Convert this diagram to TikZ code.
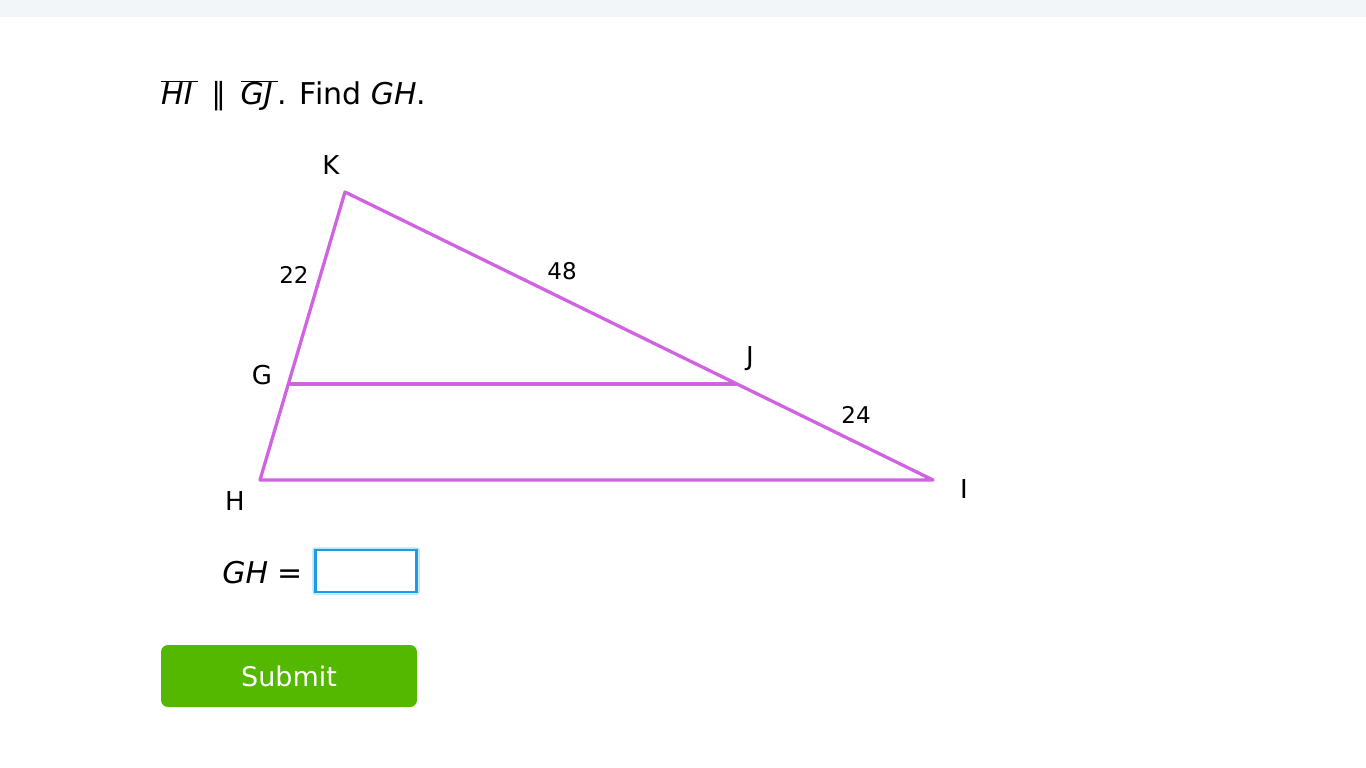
\documentclass[tikz,border=0pt]{standalone}
\usepackage{fontspec}
\setmainfont{DejaVu Sans}
\usepackage{tikz}
\usetikzlibrary{positioning}
\definecolor{SideOrchid}{HTML}{D064E0}
\definecolor{BarGrey}{HTML}{F3F6F9}
\definecolor{InputBlue}{HTML}{1E9BE3}
\definecolor{GlowBlue}{HTML}{BFE3F7}
\definecolor{SubmitGreen}{HTML}{55B800}
\tikzset{
  side/.style={draw=SideOrchid, line width=3.3pt, line join=round},
  vertexlabel/.style={font=\fontsize{26}{30}\selectfont, inner sep=0pt},
  lengthlabel/.style={font=\fontsize{23}{27}\selectfont, inner sep=0pt},
  inputbox/.style={draw=InputBlue, line width=2.2pt, fill=white, minimum width=101pt, minimum height=42pt, inner sep=0pt},
  submitbtn/.style={fill=SubmitGreen, rounded corners=7pt, text=white, minimum width=256pt, minimum height=62pt, font=\fontsize{27}{32}\selectfont, inner sep=0pt}
}
\begin{document}
\begin{tikzpicture}[x=1pt, y=-1pt]
  \useasboundingbox (0,0) rectangle (1366,768);
  \fill[BarGrey] (0,0) rectangle (1366,17);

  \node[anchor=west, inner sep=0pt, font=\fontsize{30}{36}\selectfont] (question) at (161,96)
    {$\overline{\mbox{\itshape HI\,}}$\hspace{14pt}∥\hspace{14pt}$\overline{\mbox{\itshape GJ\,}}$. Find \textit{GH}.};

  % triangle
  \coordinate (K) at (345,192);
  \coordinate (G) at (288,384);
  \coordinate (H) at (260,480);
  \coordinate (J) at (737,384);
  \coordinate (I) at (933,480);
  \draw[side] (K) -- (I) -- (H) -- cycle;
  \draw[side] (G) -- (J);

  \node[vertexlabel] (labK) at (331,165) {K};
  \node[vertexlabel] (labG) at (262,375) {G};
  \node[vertexlabel] (labH) at (235,501) {H};
  \node[vertexlabel] (labJ) at (750,359) {J};
  \node[vertexlabel] (labI) at (964,489) {I};
  \node[lengthlabel] (lenKG) at (294,275) {22};
  \node[lengthlabel] (lenKJ) at (562,271) {48};
  \node[lengthlabel] (lenJI) at (856,415) {24};

  % answer
  \draw[GlowBlue, line width=1.5pt, rounded corners=2pt] (313,548) rectangle (419,594);
  \node[inputbox] (answer) at (366,571) {};
  \node[anchor=east, inner sep=0pt, font=\fontsize{30}{36}\selectfont] (ghlabel) at (303,573) {\textit{GH} =};
  \node[submitbtn] (submit) at (289,676) {Submit};
\end{tikzpicture}
\end{document}
